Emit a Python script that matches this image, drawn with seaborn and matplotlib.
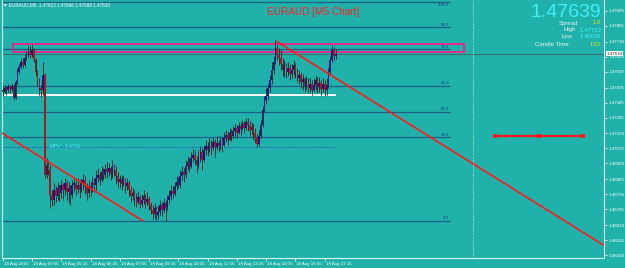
import numpy as np
import pandas as pd
import matplotlib
matplotlib.use("Agg")
import matplotlib.pyplot as plt
import matplotlib.transforms as mtransforms
from matplotlib.patches import Rectangle
import seaborn as sns

# ---------------- data ----------------
header_text = "EURAUD,M5  1.47623 1.47666 1.47608 1.47639"
title_text = "EURAUD [M5 Chart]"
first_open = 1.47420
close = [1.47408, 1.47432, 1.47420, 1.47438, 1.47426, 1.47444, 1.47372, 1.47468, 1.47528, 1.47558,
         1.47588, 1.47570, 1.47612, 1.47630, 1.47648, 1.47630, 1.47660, 1.47600, 1.47528, 1.47480,
         1.47432, 1.47420, 1.47510, 1.46910, 1.46970, 1.46940, 1.46790, 1.46760, 1.46820, 1.46784,
         1.46832, 1.46802, 1.46850, 1.46820, 1.46862, 1.46808, 1.46832, 1.46790, 1.46850, 1.46862,
         1.46826, 1.46850, 1.46820, 1.46856, 1.46880, 1.46838, 1.46802, 1.46844, 1.46820, 1.46862,
         1.46850, 1.46892, 1.46910, 1.46880, 1.46928, 1.46910, 1.46946, 1.46928, 1.46952, 1.46916,
         1.46964, 1.46940, 1.46904, 1.46868, 1.46886, 1.46856, 1.46880, 1.46844, 1.46862, 1.46820,
         1.46784, 1.46802, 1.46766, 1.46748, 1.46778, 1.46736, 1.46760, 1.46784, 1.46748, 1.46766,
         1.46730, 1.46700, 1.46676, 1.46712, 1.46670, 1.46688, 1.46730, 1.46700, 1.46742, 1.46712,
         1.46760, 1.46784, 1.46814, 1.46796, 1.46844, 1.46868, 1.46850, 1.46904, 1.46928, 1.46910,
         1.46964, 1.46988, 1.46958, 1.47012, 1.47030, 1.47000, 1.46970, 1.47012, 1.47048, 1.47000,
         1.47060, 1.47084, 1.47060, 1.47090, 1.47072, 1.47108, 1.47078, 1.47102, 1.47084, 1.47120,
         1.47090, 1.47132, 1.47150, 1.47120, 1.47162, 1.47144, 1.47174, 1.47192, 1.47162, 1.47204,
         1.47186, 1.47216, 1.47192, 1.47228, 1.47210, 1.47180, 1.47198, 1.47162, 1.47132, 1.47096,
         1.47144, 1.47210, 1.47300, 1.47360, 1.47384, 1.47432, 1.47480, 1.47540, 1.47588, 1.47672,
         1.47630, 1.47612, 1.47576, 1.47540, 1.47564, 1.47528, 1.47552, 1.47516, 1.47540, 1.47570,
         1.47528, 1.47492, 1.47510, 1.47468, 1.47486, 1.47444, 1.47468, 1.47432, 1.47456, 1.47420,
         1.47450, 1.47480, 1.47438, 1.47462, 1.47426, 1.47456, 1.47420, 1.47450, 1.47528, 1.47600,
         1.47660, 1.47623, 1.47639]
high = [1.47444, 1.47450, 1.47444, 1.47456, 1.47450, 1.47462, 1.47456, 1.47480, 1.47552, 1.47576,
        1.47612, 1.47612, 1.47636, 1.47654, 1.47690, 1.47684, 1.47696, 1.47672, 1.47612, 1.47540,
        1.47492, 1.47450, 1.47588, 1.47522, 1.47012, 1.47000, 1.46970, 1.46820, 1.46862, 1.46844,
        1.46868, 1.46850, 1.46880, 1.46862, 1.46892, 1.46880, 1.46868, 1.46850, 1.46880, 1.46892,
        1.46880, 1.46892, 1.46880, 1.46892, 1.46916, 1.46904, 1.46862, 1.46880, 1.46868, 1.46904,
        1.46892, 1.46940, 1.46952, 1.46928, 1.46964, 1.46952, 1.46976, 1.46988, 1.46982, 1.46964,
        1.47000, 1.46976, 1.46964, 1.46928, 1.46910, 1.46904, 1.46910, 1.46892, 1.46892, 1.46880,
        1.46844, 1.46832, 1.46820, 1.46802, 1.46814, 1.46790, 1.46796, 1.46820, 1.46796, 1.46808,
        1.46784, 1.46748, 1.46730, 1.46742, 1.46724, 1.46724, 1.46760, 1.46748, 1.46772, 1.46760,
        1.46790, 1.46820, 1.46850, 1.46844, 1.46868, 1.46904, 1.46898, 1.46940, 1.46964, 1.46952,
        1.47000, 1.47024, 1.47012, 1.47048, 1.47066, 1.47060, 1.47024, 1.47060, 1.47084, 1.47072,
        1.47090, 1.47120, 1.47108, 1.47132, 1.47120, 1.47138, 1.47126, 1.47144, 1.47120, 1.47144,
        1.47138, 1.47168, 1.47180, 1.47174, 1.47192, 1.47186, 1.47204, 1.47216, 1.47210, 1.47228,
        1.47228, 1.47240, 1.47234, 1.47252, 1.47252, 1.47234, 1.47228, 1.47216, 1.47192, 1.47156,
        1.47180, 1.47240, 1.47324, 1.47384, 1.47432, 1.47456, 1.47510, 1.47588, 1.47624, 1.47719,
        1.47696, 1.47672, 1.47660, 1.47612, 1.47600, 1.47582, 1.47588, 1.47576, 1.47576, 1.47600,
        1.47582, 1.47552, 1.47540, 1.47528, 1.47516, 1.47498, 1.47504, 1.47492, 1.47492, 1.47480,
        1.47492, 1.47510, 1.47498, 1.47498, 1.47480, 1.47492, 1.47480, 1.47492, 1.47552, 1.47624,
        1.47690, 1.47678, 1.47666]
low = [1.47384, 1.47402, 1.47390, 1.47408, 1.47402, 1.47414, 1.47360, 1.47366, 1.47456, 1.47516,
       1.47552, 1.47552, 1.47558, 1.47600, 1.47618, 1.47612, 1.47618, 1.47588, 1.47504, 1.47444,
       1.47390, 1.47378, 1.47390, 1.46892, 1.46892, 1.46910, 1.46712, 1.46724, 1.46730, 1.46748,
       1.46760, 1.46754, 1.46772, 1.46760, 1.46790, 1.46760, 1.46742, 1.46730, 1.46772, 1.46808,
       1.46790, 1.46802, 1.46772, 1.46808, 1.46820, 1.46796, 1.46760, 1.46778, 1.46784, 1.46808,
       1.46808, 1.46820, 1.46868, 1.46850, 1.46868, 1.46880, 1.46892, 1.46892, 1.46904, 1.46880,
       1.46892, 1.46904, 1.46856, 1.46832, 1.46832, 1.46820, 1.46844, 1.46802, 1.46820, 1.46784,
       1.46748, 1.46760, 1.46724, 1.46718, 1.46736, 1.46712, 1.46718, 1.46736, 1.46712, 1.46730,
       1.46700, 1.46676, 1.46646, 1.46652, 1.46640, 1.46646, 1.46670, 1.46664, 1.46688, 1.46636,
       1.46700, 1.46736, 1.46760, 1.46772, 1.46784, 1.46820, 1.46832, 1.46832, 1.46880, 1.46868,
       1.46892, 1.46940, 1.46928, 1.46952, 1.46988, 1.46970, 1.46922, 1.46952, 1.46988, 1.46940,
       1.46988, 1.47030, 1.47024, 1.47048, 1.47030, 1.47060, 1.47018, 1.47060, 1.47048, 1.47060,
       1.47048, 1.47084, 1.47108, 1.47090, 1.47120, 1.47114, 1.47132, 1.47144, 1.47132, 1.47156,
       1.47150, 1.47180, 1.47162, 1.47180, 1.47174, 1.47144, 1.47156, 1.47120, 1.47102, 1.47078,
       1.47084, 1.47132, 1.47198, 1.47288, 1.47336, 1.47360, 1.47408, 1.47456, 1.47516, 1.47576,
       1.47600, 1.47570, 1.47540, 1.47504, 1.47498, 1.47492, 1.47504, 1.47480, 1.47492, 1.47510,
       1.47492, 1.47468, 1.47456, 1.47432, 1.47420, 1.47408, 1.47420, 1.47402, 1.47408, 1.47390,
       1.47408, 1.47420, 1.47402, 1.47408, 1.47390, 1.47408, 1.47384, 1.47390, 1.47432, 1.47516,
       1.47588, 1.47600, 1.47608]

time_label_bars = [0, 16, 32, 48, 64, 80, 96, 112, 128, 144, 160, 176]
time_labels = ["18 Aug 2016", "18 Aug 03:55", "18 Aug 05:15", "18 Aug 06:35", "18 Aug 07:55",
               "18 Aug 09:15", "18 Aug 10:35", "18 Aug 11:55", "18 Aug 13:15", "18 Aug 14:35",
               "18 Aug 15:55", "18 Aug 17:15"]
price_ticks = [1.47895, 1.47805, 1.47710, 1.47620, 1.47530, 1.47435, 1.47345, 1.47255, 1.47160,
               1.47070, 1.46980, 1.46885, 1.46795, 1.46705, 1.46610, 1.46520, 1.46430]

fib_levels = [0.0, 38.2, 50.0, 61.8, 78.6, 88.6, 100.0]
fib_low, fib_high = 1.46636, 1.47946
fib_end_bar = 244.4

zone_bars = [5.6, 252.0]
zone_prices = [1.47648, 1.47696]
white_level, white_end_bar = 1.47390, 182.1
mpv_level, mpv_label = 1.47078, "MPV   1.4708"
bid_price = 1.47639
trend1_bars, trend1_prices = [150.0, 330.0], [1.47710, 1.46478]
trend2_bars, trend2_prices = [-0.4, 76.7], [1.47162, 1.46634]
seg_bars, seg_prices = [269, 293, 317], [1.47144, 1.47144, 1.47144]
separator_bar = 257.0

info_price = "1.47639"
info_rows = [("Spread", "1.0", "#e8e020"), ("High", "1.47719", "#40f0f8"),
             ("Low", "1.46636", "#40f0f8"), ("Candle Time", "1:51", "#e8e020")]

# ---------------- style ----------------
BG = "#20B2AA"
sns.set_style("ticks", {"axes.facecolor": BG, "figure.facecolor": BG})
plt.rcParams["font.family"] = ["Liberation Sans", "DejaVu Sans"]

W, H = 625, 268
fig = plt.figure(figsize=(W / 100, H / 100), dpi=100)
ax = fig.add_axes([2 / W, 10 / H, 602 / W, 258 / H])
ax.set_facecolor(BG)
ax.set_xlim(-0.38, 328.6)
ax.set_ylim(1.46412, 1.47960)

df = pd.DataFrame({"close": close, "high": high, "low": low})
df["open"] = [first_open] + close[:-1]
df["bar"] = np.arange(len(df))
df["bull"] = df["close"] >= df["open"]

# fib levels
fib_prices = [fib_low + (fib_high - fib_low) * lv / 100 for lv in fib_levels]
for lv, pr in zip(fib_levels, fib_prices):
    ax.hlines(pr, -0.38, fib_end_bar, color="#1d5d88", lw=0.9, zorder=1)
    top_level = lv == max(fib_levels)
    ax.text(fib_end_bar - 0.5, pr + (-0.00001 if top_level else 0.00002), f"{lv:.1f}",
            color="#1d3d80", fontsize=3.2, ha="right",
            va="top" if top_level else "bottom", zorder=2)

# zone rectangle
ax.add_patch(Rectangle((zone_bars[0], zone_prices[0]), zone_bars[1] - zone_bars[0],
                       zone_prices[1] - zone_prices[0], fill=False, ec="#f0208a", lw=1.3, zorder=3))
# bid line
ax.axhline(bid_price, color="#3f6f70", lw=0.8, zorder=1)
# white and MPV lines
ax.hlines(white_level, -0.38, white_end_bar, color="white", lw=1.4, zorder=2)
ax.hlines(mpv_level, -0.38, white_end_bar, color="#2050c0", lw=0.7, ls=(0, (1.5, 1.5)), zorder=2)
ax.text(26, mpv_level + 0.00001, mpv_label, color="#40e8f8", fontsize=3.6, va="center", zorder=2)
# separator
ax.axvline(separator_bar, color="#c8ecea", lw=0.7, ls=(0, (1, 1.5)), zorder=1)

# candles
bull_c, bear_c, wick_c = "#151590", "#a81818", "#1a3434"
ax.vlines(df["bar"], df["low"], df["high"], color=wick_c, lw=0.7, zorder=4)
body = (df["close"] - df["open"]).abs().clip(lower=0.000012)
bottom = df[["open", "close"]].min(axis=1)
ax.bar(df["bar"], body, bottom=bottom, width=0.85,
       color=np.where(df["bull"], bull_c, bear_c), lw=0, zorder=5)

# trend lines
sns.lineplot(x=trend1_bars, y=trend1_prices, ax=ax, color="#ff1a1a", lw=1.2, zorder=6)
sns.lineplot(x=trend2_bars, y=trend2_prices, ax=ax, color="#ff1a1a", lw=1.2, zorder=6)
sns.lineplot(x=seg_bars, y=seg_prices, ax=ax, color="#ff1a1a", lw=1.6, marker="s",
             markersize=2.5, markeredgewidth=0, zorder=6)

# axes styling
for s in ["left", "bottom", "right"]:
    ax.spines[s].set_color("#d8f2f0")
    ax.spines[s].set_linewidth(0.8)
ax.spines["top"].set_visible(False)
ax.yaxis.tick_right()
ax.set_yticks(price_ticks)
ax.set_yticklabels([f"{p:.5f}" for p in price_ticks])
ax.tick_params(axis="y", colors="white", labelsize=3.2, length=2, width=0.5, pad=1.5)
ax.set_xticks(time_label_bars)
ax.set_xticklabels(time_labels, ha="left")
ax.tick_params(axis="x", colors="white", labelsize=3.2, length=2, width=0.5, pad=1)
for lbl in ax.get_xticklabels():
    lbl.set_transform(lbl.get_transform() + mtransforms.ScaledTranslation(1 / 100, 0, fig.dpi_scale_trans))
ax.set_xlabel("")
ax.set_ylabel("")

# current price box on axis
bt = mtransforms.blended_transform_factory(ax.transAxes, ax.transData)
ax.text(1.004, bid_price, f"{bid_price:.5f}", transform=bt, fontsize=3.2, color="#222222",
        va="center", ha="left", clip_on=False, zorder=10,
        bbox=dict(boxstyle="square,pad=0.15", fc="white", ec="none"))

# texts
fig.text(3 / W, 1 - 4.5 / H, "\u25BC " + header_text, color="white", fontsize=3.3,
         va="center", ha="left", family=["Liberation Sans", "DejaVu Sans"])
fig.text(313 / W, 1 - 12 / H, title_text, color="#ff2020", fontsize=7.2, ha="center", va="center")
fig.text(601 / W, 1 - 12.5 / H, info_price, color="#3ff0f8", fontsize=14, ha="right", va="center")
label_right = [578, 576, 573, 569]
row_y = [23, 30, 37, 44]
for (lab, val, col), lx, yy in zip(info_rows, label_right, row_y):
    fig.text(lx / W, 1 - yy / H, lab, color="#f0f0f0", fontsize=4.3, ha="right", va="center")
    fig.text(601 / W, 1 - yy / H, val, color=col, fontsize=4.3, ha="right", va="center")

fig.savefig("out.png", dpi=100, facecolor=BG)
